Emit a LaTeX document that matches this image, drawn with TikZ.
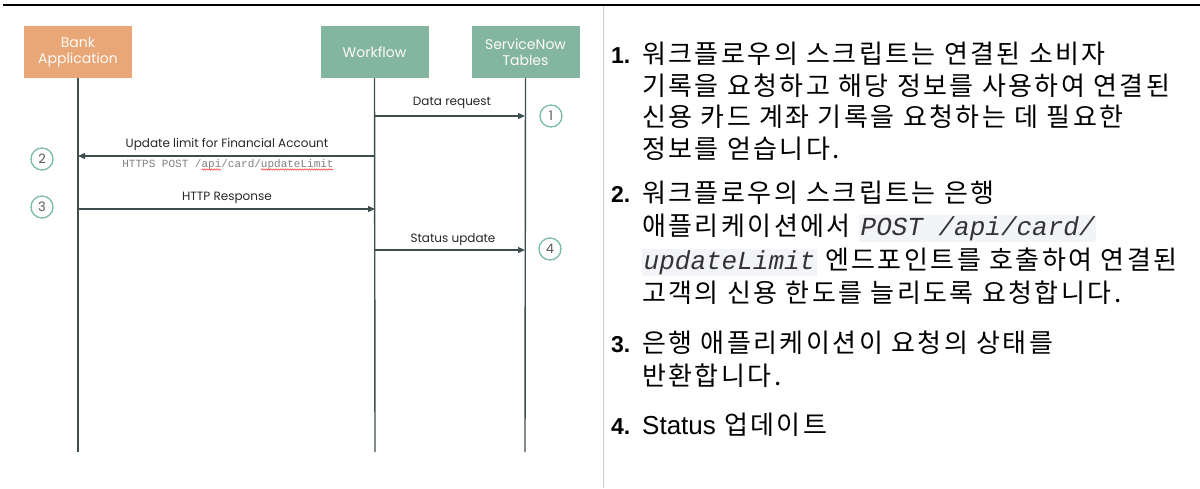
\documentclass[tikz,border=0pt]{standalone}
\usepackage{fontspec}
\setmainfont{Liberation Sans}
\newfontfamily\krfont[LetterSpace=9.5]{Noto Sans CJK KR}
\newfontfamily\diafont{Poppins}
\newfontfamily\codefont{Liberation Mono}
\usetikzlibrary{arrows.meta,decorations.pathmorphing}

\definecolor{bankorange}{HTML}{E9A677}
\definecolor{flowgreen}{HTML}{83B6A1}
\definecolor{lifegray}{HTML}{3E4E4F}
\definecolor{ringgreen}{HTML}{7BBCA5}
\definecolor{codebg}{HTML}{F2F4F7}
\setlength{\fboxsep}{1.5pt}

\tikzset{
  actor/.style={minimum width=108pt, minimum height=52pt, inner sep=0pt, align=center,
    text=white!96!orange, font=\diafont\fontsize{14}{16}\selectfont},
  life/.style={draw=lifegray, line width=1.4pt},
  msg/.style={draw=lifegray, line width=1.3pt, -{Triangle[length=7pt,width=6pt]}},
  stepring/.style={circle, draw=ringgreen, line width=1.3pt, minimum size=22pt, inner sep=0pt,
    text=black!65, font=\diafont\fontsize{13}{13}\selectfont},
  msglabel/.style={inner sep=0pt, text=black!85, font=\diafont\fontsize{12}{14}\selectfont},
  krline/.style={anchor=base west, inner sep=0pt, font=\krfont\fontsize{26}{31}\selectfont},
  itemnum/.style={anchor=base west, inner sep=0pt, font=\bfseries\fontsize{23}{31}\selectfont},
  squiggle/.style={red!80, line width=0.5pt, decorate,
    decoration={snake, amplitude=0.7pt, segment length=2.4pt}},
}

\begin{document}
\begin{tikzpicture}[x=1pt, y=-1pt]
  \useasboundingbox (0,0) rectangle (1200,488);

  % Rahmen
  \draw[line width=2pt] (3,5) -- (1200,5);
  \draw[black!20, line width=1pt] (603.5,6) -- (603.5,488);

  % Teilnehmer
  \node[actor, fill=bankorange] (bank) at (78,52) {Bank\\Application};
  \node[actor, fill=flowgreen] (wf) at (374.5,52) {Workflow};
  \node[actor, fill=flowgreen] (sn) at (525.5,52) {ServiceNow\\Tables};

  % Lebenslinien
  \coordinate (bankend) at (78,452);
  \coordinate (wfend) at (375,452);
  \coordinate (snend) at (525,452);
  \draw[life] (bank.south) -- (bankend);
  \draw[life] (wf.south) -- (wfend);
  \draw[life] (sn.south) -- (snend);

  % Nachrichten
  \coordinate (wf1) at (375,116);  \coordinate (sn1) at (525,116);
  \coordinate (wf2) at (375,156);  \coordinate (bank2) at (78,156);
  \coordinate (bank3) at (78,209); \coordinate (wf3) at (375,209);
  \coordinate (wf4) at (375,250);  \coordinate (sn4) at (525,250);
  \draw[msg] (wf1) -- (sn1);
  \draw[msg] (wf2) -- (bank2);
  \draw[msg] (bank3) -- (wf3);
  \draw[msg] (wf4) -- (sn4);

  \node[msglabel] (lab1) at (452,103) {Data request};
  \node[msglabel] (lab2) at (227,144) {Update limit for Financial Account};
  \node[inner sep=0pt, anchor=base, text=black!50, font=\codefont\fontsize{11}{12}\selectfont]
    (http) at (228,167) {HTTPS POST /api/card/updateLimit};
  \node[msglabel] (lab3) at (227,198) {HTTP Response};
  \node[msglabel] (lab4) at (453,240) {Status update};

  % Rechtschreibmarken
  \draw[squiggle] ([xshift=79.2pt, yshift=-2.5pt]http.base west) -- ([xshift=99pt, yshift=-2.5pt]http.base west);
  \draw[squiggle] ([xshift=138.6pt, yshift=-2.5pt]http.base west) -- ([xshift=211.2pt, yshift=-2.5pt]http.base west);

  % Schritte
  \node[stepring] (s1) at (551,116) {1};
  \node[stepring] (s2) at (42,159) {2};
  \node[stepring] (s3) at (42,207) {3};
  \node[stepring] (s4) at (550,249) {4};

  % Beschreibung
  \node[itemnum] (n1) at (611,63) {1.};
  \node[krline] (t1a) at (642,63) {워크플로우의 스크립트는 연결된 소비자};
  \node[krline] (t1b) at (642,95) {기록을 요청하고 해당 정보를 사용하여 연결된};
  \node[krline] (t1c) at (642,126) {신용 카드 계좌 기록을 요청하는 데 필요한};
  \node[krline] (t1d) at (642,158) {정보를 얻습니다.};

  \node[itemnum] (n2) at (611,202) {2.};
  \node[krline] (t2a) at (642,202) {워크플로우의 스크립트는 은행};
  \node[krline] (t2b) at (642,235) {애플리케이션에서 \colorbox{codebg}{\color{black!80}\codefont\itshape POST /api/card/}};
  \node[krline] (t2c) at (642,269) {\colorbox{codebg}{\color{black!80}\codefont\itshape updateLimit} 엔드포인트를 호출하여 연결된};
  \node[krline] (t2d) at (642,302) {고객의 신용 한도를 늘리도록 요청합니다.};

  \node[itemnum] (n3) at (611,352) {3.};
  \node[krline] (t3a) at (642,352) {은행 애플리케이션이 요청의 상태를};
  \node[krline] (t3b) at (642,385) {반환합니다.};

  \node[itemnum] (n4) at (611,434) {4.};
  \node[krline] (t4a) at (642,434) {{\fontspec{Liberation Sans}Status} 업데이트};
\end{tikzpicture}
\end{document}
